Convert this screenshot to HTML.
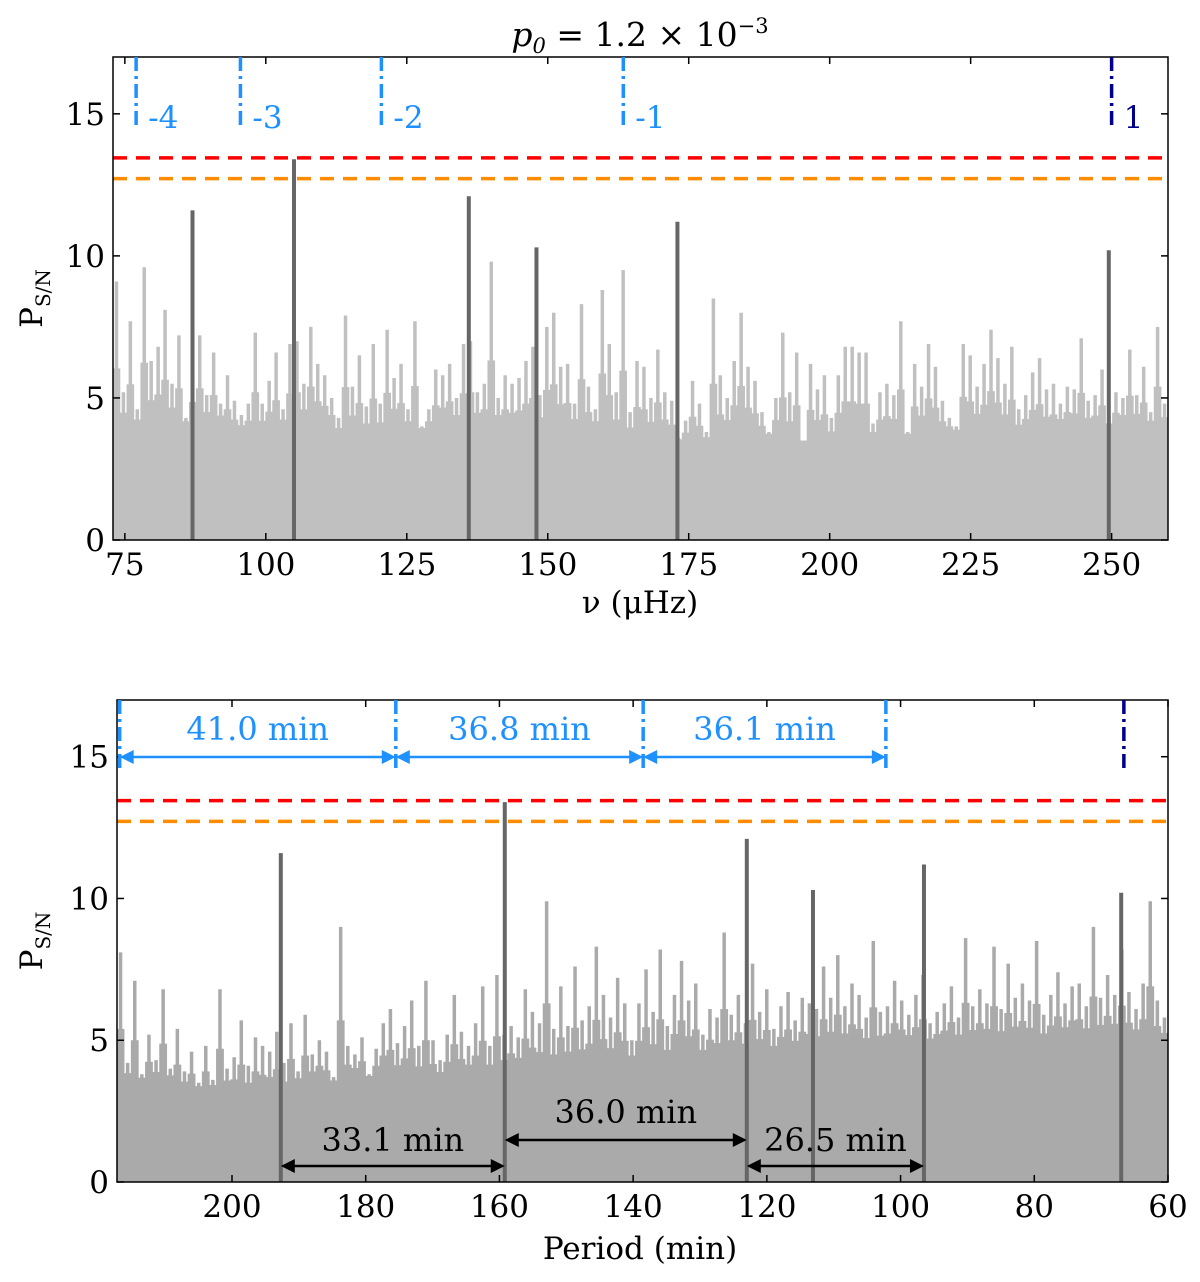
<!DOCTYPE html>
<html><head><meta charset="utf-8"><style>
body{margin:0;background:#fff;}
svg text{font-family:"DejaVu Serif","Liberation Serif",serif;}
</style></head><body>
<svg id="fig" width="1200" height="1277" viewBox="0 0 1200 1277" xmlns="http://www.w3.org/2000/svg">
<g id="top"></g>
<g id="bot"></g>
</svg>
<script>
const topSpikes=[9.1,5.2,7.7,4.6,9.6,6.3,6.8,8.1,5.5,7.2,4.3,6.0,7.2,5.1,6.6,4.8,5.8,4.9,4.4,4.8,7.3,4.8,5.6,6.6,4.6,6.9,7.0,5.5,7.5,6.2,5.8,5.0,4.3,7.9,5.4,6.5,4.7,6.9,4.8,7.4,5.7,6.2,4.6,7.7,4.0,4.6,6.0,5.8,6.2,5.0,6.9,7.0,5.2,5.5,9.8,5.0,5.8,5.5,5.7,6.3,6.8,5.1,7.5,8.0,6.1,6.2,4.8,8.3,5.4,4.6,8.8,6.9,5.2,9.5,4.5,6.3,6.1,5.0,6.7,5.2,4.9,3.6,4.2,5.6,4.8,3.8,8.5,5.8,5.0,6.3,8.0,6.1,5.6,4.5,3.8,5.0,7.3,5.2,6.6,3.5,6.2,5.3,5.8,4.3,5.8,6.8,6.8,6.6,6.6,4.1,5.2,5.5,5.1,7.7,3.8,6.2,5.4,6.9,6.1,4.9,4.3,4.0,6.9,6.5,5.4,6.2,7.4,6.4,5.5,6.8,4.6,5.1,5.9,6.4,5.3,5.5,4.8,5.4,5.3,7.1,4.9,5.1,6.0,4.4,5.2,5.0,6.7,5.1,6.1,4.5,7.5,4.8];
const topBase=[4.0,4.1,3.8,4.0,3.7,3.9,4.0,3.8,3.9,3.6,3.5,3.7,3.5,3.6,3.7,3.8,3.7,3.9,4.0];
const topPeakFreq=[87,105,136,148,173,249.5];
const topPeakVal=[11.6,13.4,12.1,10.3,11.2,10.2];
const topModes=[77,95.5,120.5,163.4,250];
const topModeLabels=["-4","-3","-2","-1","1"];
const xTicksTop=[75,100,125,150,175,200,225,250];
const yTicks=[0,5,10,15];
const faps=[13.45,12.72];

const botSpikes=[8.1,4.2,7.1,3.8,5.2,4.3,6.8,4.0,5.4,3.9,4.6,3.5,4.8,3.6,6.8,4.0,4.4,5.7,4.1,5.1,4.8,4.6,5.3,4.2,5.6,3.9,5.9,4.5,5.0,4.6,3.7,9.0,4.8,4.5,5.1,3.8,4.7,5.6,6.1,4.9,5.5,6.4,4.8,7.1,5.0,4.3,5.2,6.6,5.3,4.8,5.6,6.9,4.8,7.3,5.2,5.5,5.1,6.8,6.0,5.6,9.9,5.4,6.9,5.5,7.6,5.7,6.2,8.3,6.6,5.8,7.2,6.3,5.0,6.3,7.5,6.0,8.2,5.5,6.6,7.8,6.4,7.0,5.2,6.1,5.8,8.8,5.9,6.6,5.6,7.7,6.0,6.8,5.4,6.2,6.7,5.7,6.5,6.3,6.1,7.6,6.5,8.0,6.2,7.0,6.6,5.8,8.5,6.0,6.2,7.1,6.4,5.9,6.6,7.3,5.6,6.0,6.3,6.9,5.8,8.6,6.2,6.8,6.3,8.3,6.1,7.7,6.5,7.0,6.4,8.5,5.9,6.6,7.4,6.3,6.9,7.0,6.2,9.0,6.5,7.3,6.6,8.2,6.7,6.1,7.0,9.9,6.4,5.8];
const botBase=[3.6,3.3,3.1,3.5,3.7,3.6,3.7,3.9,4.0,4.1,4.3,4.4,4.5,4.6,4.7,4.8,4.8,4.9,4.9];
const botPeakPer=[192.7,159.2,123.0,113.1,96.5,67.0];
const botPeakVal=[11.6,13.4,12.1,10.3,11.2,10.2];
const botModes=[216.8,175.5,138.5,102.2,66.6];
const botSpacingLabels=["41.0 min","36.8 min","36.1 min"];
const botGapLabels=["33.1 min","36.0 min","26.5 min"];
const xTicksBot=[200,180,160,140,120,100,80,60];

const NS="http://www.w3.org/2000/svg";
function mk(parent,tag,attrs,text){const e=document.createElementNS(NS,tag);for(const k in attrs)e.setAttribute(k,attrs[k]);if(text!==undefined)e.textContent=text;parent.appendChild(e);return e;}

function panel(g,o){
  const L=o.L,R=o.R,T=o.T,B=o.B;
  const sx=v=>L+(v-o.x0)/(o.x1-o.x0)*(R-L);
  const sy=v=>B-v/17*(B-T);
  const cid='clip'+o.id;
  const cp=mk(g,'clipPath',{id:cid});mk(cp,'rect',{x:L,y:T,width:R-L,height:B-T});
  const plot=mk(g,'g',{'clip-path':'url(#'+cid+')'});
  
  
  let d='M'+L+','+B;
  o.base.forEach((v,i)=>{const xa=L+i*(R-L)/o.base.length,xb=L+(i+1)*(R-L)/o.base.length;d+=' L'+xa+','+sy(v)+' L'+xb+','+sy(v);});
  d+=' L'+R+','+B+' Z';
  const bp=mk(plot,'path',{d:d,fill:o.col});
  
  
  const n=o.spikes.length,w=(R-L)/n;
  o.spikes.forEach((v,i)=>{
    const x=L+(i+0.5)*w;
    const bi=Math.min(o.base.length-1,Math.floor(i/n*o.base.length));
    const bl=o.base[bi];
    const sh=Math.max(bl,bl+(v-bl)*0.4);
    const r=mk(plot,'rect',{x:x-w*0.55,y:sy(sh),width:w*1.1,height:B-sy(sh),fill:o.col});
    
    
    const l=mk(plot,'line',{x1:x,x2:x,y1:B,y2:sy(v),stroke:o.col,'stroke-width':3.5});
    
    
  });
  o.peaks.forEach((p,i)=>{
    const x=sx(p);
    const l=mk(plot,'line',{x1:x,x2:x,y1:B,y2:sy(o.peakVal[i]),stroke:'#666','stroke-width':4});
    
    
  });
  const fc=['#ff0000','#ff8c00'];
  o.faps.forEach((v,i)=>{
    const l=mk(g,'line',{x1:L,x2:R,y1:sy(v),y2:sy(v),stroke:fc[i],'stroke-width':3.5,'stroke-dasharray':'14,9'});
    
    
  });
  const fr=mk(g,'rect',{x:L,y:T,width:R-L,height:B-T,fill:'none',stroke:'#000','stroke-width':1.5});
  
  
  o.xticks.forEach(t=>{
    const x=sx(t);
    mk(g,'line',{x1:x,x2:x,y1:B,y2:B-7,stroke:'#000','stroke-width':1.5});
    mk(g,'line',{x1:x,x2:x,y1:T,y2:T+7,stroke:'#000','stroke-width':1.5});
    const tx=mk(g,'text',{x:x,y:B+35,'font-size':31,'text-anchor':'middle'},t);
    
    
  });
  yTicks.forEach(t=>{
    const y=sy(t);
    mk(g,'line',{x1:L,x2:L+7,y1:y,y2:y,stroke:'#000','stroke-width':1.5});
    mk(g,'line',{x1:R,x2:R-7,y1:y,y2:y,stroke:'#000','stroke-width':1.5});
    const tx=mk(g,'text',{x:L-8,y:y+11,'font-size':31,'text-anchor':'end'},t);
    
    
  });
  const yl=mk(g,'text',{x:0,y:0,'font-size':31,transform:'translate(42,'+((T+B)/2)+') rotate(-90)','text-anchor':'middle'});
  
  
  yl.innerHTML='P<tspan font-size="20" dy="8">S/N</tspan>';
  return {sx,sy};
}

const gt=document.getElementById('top');
const a=panel(gt,{id:'t',L:113,R:1168,T:57,B:540,x0:72.9,x1:260,base:topBase,spikes:topSpikes,col:'#c0c0c0',peaks:topPeakFreq,peakVal:topPeakVal,faps:faps,xticks:xTicksTop});
topModes.forEach((m,i)=>{
  const x=a.sx(m),c=i==4?'#00008b':'#1e90ff';
  const l=mk(gt,'line',{x1:x,x2:x,y1:57,y2:128,stroke:c,'stroke-width':3.5,'stroke-dasharray':'14,5,3,5'});
  
  
  const t=mk(gt,'text',{x:x+12,y:128,'font-size':31,fill:c},topModeLabels[i]);
  
  
});
const tt=mk(gt,'text',{x:640,y:46,'font-size':33,'text-anchor':'middle','font-style':'italic'});


tt.innerHTML='p<tspan font-size="21" dy="7">0</tspan><tspan dy="-7" font-style="normal"> = 1.2 × 10</tspan><tspan font-size="21" dy="-13" font-style="normal">−3</tspan>';
const xl=mk(gt,'text',{x:640,y:613,'font-size':31,'text-anchor':'middle','font-family':'DejaVu Sans, sans-serif'},'ν (μHz)');



const gb=document.getElementById('bot');
const b=panel(gb,{id:'b',L:117,R:1168,T:700,B:1182,x0:217.2,x1:60,base:botBase,spikes:botSpikes,col:'#aaaaaa',peaks:botPeakPer,peakVal:botPeakVal,faps:faps,xticks:xTicksBot});
botModes.forEach((m,i)=>{
  const x=b.sx(m),c=i==4?'#00008b':'#1e90ff';
  const l=mk(gb,'line',{x1:x,x2:x,y1:700,y2:772,stroke:c,'stroke-width':3.5,'stroke-dasharray':'14,5,3,5'});
  
  
});
function arrow(g,x1,x2,y,c,label,ly,name){
  const l=mk(g,'line',{x1:x1+12,x2:x2-12,y1:y,y2:y,stroke:c,'stroke-width':2.5});
  
  
  mk(g,'path',{d:`M${x1},${y} l14,-7 v14 Z M${x2},${y} l-14,-7 v14 Z`,fill:c});
  const t=mk(g,'text',{x:(x1+x2)/2,y:ly,'font-size':32,'text-anchor':'middle',fill:c},label);
  
  
}
for(let i=0;i<3;i++)arrow(gb,b.sx(botModes[i]),b.sx(botModes[i+1]),757,'#1e90ff',botSpacingLabels[i],740,'mode-spacing-arrow');
const gy=[1166,1140,1166],gly=[1151,1123,1151];
for(let i=0;i<3;i++){const p=[0,1,2,4];arrow(gb,b.sx(botPeakPer[p[i]]),b.sx(botPeakPer[p[i+1]]),gy[i],'#000',botGapLabels[i],gly[i],'peak-spacing-arrow');}
const xl2=mk(gb,'text',{x:640,y:1259,'font-size':31,'text-anchor':'middle'},'Period (min)');


</script>
</body></html>
